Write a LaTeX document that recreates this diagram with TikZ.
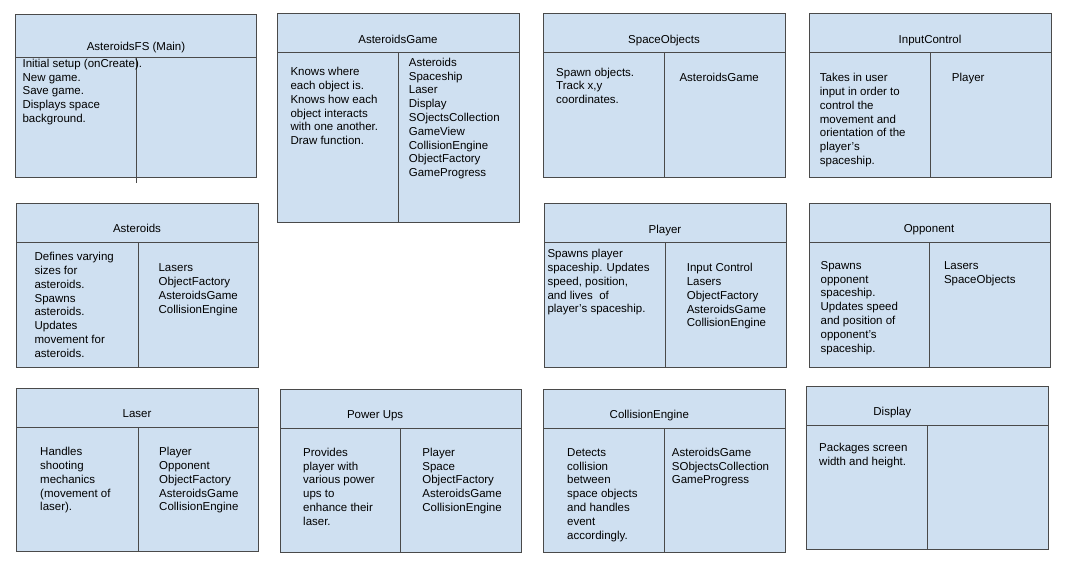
\documentclass[tikz,border=0pt]{standalone}
\usepackage{fontspec}
\setmainfont{Liberation Sans}
\definecolor{boxfill}{HTML}{CFE0F1}
\definecolor{boxdraw}{HTML}{4A4A4A}
\newcommand{\tl}{\vrule width 0pt height 9pt depth 0pt}
\tikzset{
  boxbody/.style={fill=boxfill, draw=boxdraw, line width=1pt},
  boxrule/.style={draw=boxdraw, line width=1pt},
  ttl/.style={anchor=base, inner sep=0pt, font=\fontsize{11.5}{13.8}\selectfont},
  ttlw/.style={anchor=base west, inner sep=0pt, font=\fontsize{11.5}{13.8}\selectfont},
  txt/.style={anchor=north west, yshift=9pt, inner sep=0pt, align=left, font=\fontsize{11.5}{13.8}\selectfont},
}
\newcommand{\crcbox}[7]{%
  \draw[boxbody] (#2,#3) rectangle (#4,#5);
  \coordinate (#1-hl) at (#2,#6);
  \coordinate (#1-hr) at (#4,#6);
  \coordinate (#1-dt) at (#7,#6);
  \coordinate (#1-db) at (#7,#5);
  \draw[boxrule] (#1-hl) -- (#1-hr);
  \draw[boxrule] (#1-dt) -- (#1-db);
}
\begin{document}
\begin{tikzpicture}[x=1pt,y=-1pt]
\useasboundingbox (0,0) rectangle (1072,562);
\fill[white] (0,0) rectangle (1072,562);

% Row 1
\crcbox{fs}{15.5}{14}{256.5}{177.5}{57}{136.5}
\coordinate (fs-ext) at (136.5,183);
\draw[boxrule] (fs-db) -- (fs-ext);
\crcbox{game}{277}{13}{519}{222.5}{52}{398}
\crcbox{so}{543}{13}{785}{177}{52}{664}
\crcbox{ic}{809}{13}{1051}{177}{52}{930}
% Row 2
\crcbox{ast}{16.5}{203}{258}{367}{242}{138}
\crcbox{pl}{544}{203}{786}{367}{242}{665}
\crcbox{opp}{809}{203}{1050}{367}{242}{929}
% Row 3
\crcbox{las}{16.5}{388}{258}{551}{427}{138}
\crcbox{pu}{280}{389}{521}{552}{428}{400}
\crcbox{ce}{543}{389}{785}{552}{428}{664}
\crcbox{disp}{806.5}{386}{1048}{549}{425}{927.5}

% AsteroidsFS (Main)
\node[ttl] (fs-t) at (136,50.5) {AsteroidsFS (Main)};
\node[txt] (fs-l) at (22.4,67) {\tl Initial setup (onCreate).\\New game.\\Save game.\\Displays space\\background.};

% AsteroidsGame
\node[ttl] (game-t) at (398,43) {AsteroidsGame};
\node[txt] (game-l) at (290.3,75.5) {\tl Knows where\\each object is.\\Knows how each\\object interacts\\with one another.\\Draw function.};
\node[txt] (game-r) at (408.7,66) {\tl Asteroids\\Spaceship\\Laser\\Display\\SOjectsCollection\\GameView\\CollisionEngine\\ObjectFactory\\GameProgress};

% SpaceObjects
\node[ttl] (so-t) at (664,43) {SpaceObjects};
\node[txt] (so-l) at (556,75.8) {\tl Spawn objects.\\Track x,y\\coordinates.};
\node[txt] (so-r) at (679.3,81.5) {\tl AsteroidsGame};

% InputControl
\node[ttl] (ic-t) at (930,43) {InputControl};
\node[txt] (ic-l) at (819.7,81.5) {\tl Takes in user\\input in order to\\control the\\movement and\\orientation of the\\player’s\\spaceship.};
\node[txt] (ic-r) at (951.7,81.5) {\tl Player};

% Asteroids
\node[ttl] (ast-t) at (137,232) {Asteroids};
\node[txt] (ast-l) at (34.4,260.5) {\tl Defines varying\\sizes for\\asteroids.\\Spawns\\asteroids.\\Updates\\movement for\\asteroids.};
\node[txt] (ast-r) at (158.4,271.5) {\tl Lasers\\ObjectFactory\\AsteroidsGame\\CollisionEngine};

% Player
\node[ttl] (pl-t) at (665,233) {Player};
\node[txt] (pl-l) at (547.3,257.5) {\tl Spawns player\\spaceship. Updates\\speed, position,\\and lives\ \ of\\player’s spaceship.};
\node[txt] (pl-r) at (686.6,271.5) {\tl Input Control\\Lasers\\ObjectFactory\\AsteroidsGame\\CollisionEngine};

% Opponent
\node[ttl] (opp-t) at (929,232) {Opponent};
\node[txt] (opp-l) at (820.4,269) {\tl Spawns\\opponent\\spaceship.\\Updates speed\\and position of\\opponent’s\\spaceship.};
\node[txt] (opp-r) at (943.8,269) {\tl Lasers\\SpaceObjects};

% Laser
\node[ttl] (las-t) at (137,417.5) {Laser};
\node[txt] (las-l) at (40,455.5) {\tl Handles\\shooting\\mechanics\\(movement of\\laser).};
\node[txt] (las-r) at (159,455.5) {\tl Player\\Opponent\\ObjectFactory\\AsteroidsGame\\CollisionEngine};

% Power Ups
\node[ttlw] (pu-t) at (346.8,418) {Power Ups};
\node[txt] (pu-l) at (303,456) {\tl Provides\\player with\\various power\\ups to\\enhance their\\laser.};
\node[txt] (pu-r) at (422.2,456) {\tl Player\\Space\\ObjectFactory\\AsteroidsGame\\CollisionEngine};

% CollisionEngine
\node[ttlw] (ce-t) at (609.5,418.5) {CollisionEngine};
\node[txt] (ce-l) at (567,456) {\tl Detects\\collision\\between\\space objects\\and handles\\event\\accordingly.};
\node[txt] (ce-r) at (671.7,456) {\tl AsteroidsGame\\SObjectsCollection\\GameProgress};

% Display
\node[ttlw] (disp-t) at (873.2,415.5) {Display};
\node[txt] (disp-l) at (819,451) {\tl Packages screen\\width and height.};
\end{tikzpicture}
\end{document}
